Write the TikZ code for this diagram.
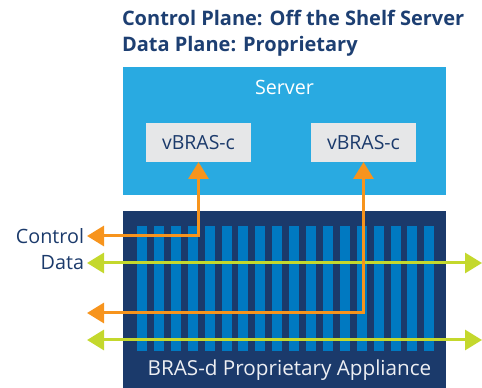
\documentclass[tikz,border=0pt]{standalone}
\usepackage{fontspec}
\setmainfont{Open Sans}
\usepackage{tikz}
\usetikzlibrary{arrows.meta}
\usetikzlibrary{positioning}

\definecolor{navy}{HTML}{1B3A6B}
\definecolor{titleblue}{HTML}{1D3F72}
\definecolor{srvblue}{HTML}{29AAE1}
\definecolor{stripeblue}{HTML}{0079C1}
\definecolor{boxgray}{HTML}{E6E7E8}
\definecolor{ctrlorange}{HTML}{F7941D}
\definecolor{datagreen}{HTML}{C4D82D}

\begin{document}
\begin{tikzpicture}
      [x=0.75pt, y=-0.75pt,
       every node/.style={inner sep=0pt, outer sep=0pt},
       vbox/.style={fill=boxgray, minimum width=78.75pt, minimum height=29.25pt,
         text=navy, font=\fontsize{14.6}{17}\selectfont},
       ctrl/.style={draw=ctrlorange, line width=2.25pt,
         {Triangle[length=12.75pt, width=15pt]}-{Triangle[length=12.75pt, width=15pt]}},
       data/.style={draw=datagreen, line width=2.25pt,
         {Triangle[length=12.75pt, width=15pt]}-{Triangle[length=12.75pt, width=15pt]}},
       side/.style={anchor=east, text=navy, font=\fontsize{14.8}{17}\selectfont}]
      \useasboundingbox (0,0) rectangle (482,388);

      % title
      \node (title) [anchor=north west, align=left, text=titleblue,
        font=\fontsize{15}{19.5}\selectfont\bfseries] at (122,10)
        {Control Plane: Off the Shelf Server\\Data Plane: Proprietary};

      % server
      \fill [srvblue] (123,67) rectangle (446,195);
      \node (srv) [text=white, font=\fontsize{14.8}{17}\selectfont] at (284.5,87) {Server};
      \node (vc1) [vbox] at (198.5,142.5) {vBRAS-c};
      \node (vc2) [vbox] at (363.5,142.5) {vBRAS-c};

      % appliance
      \fill [navy] (123,211) rectangle (446,388);
      \foreach \i in {0,...,17}
        \fill [stripeblue] ({137+16.9*\i},226) rectangle +(10,125);
      \node (bras) [text=white!92!navy, font=\fontsize{15.5}{17}\selectfont]
        at (289.5,370) {BRAS-d Proprietary Appliance};

      % labels
      \node (ctl) [side] at (84,236) {Control};
      \node (dat) [side] at (84,263) {Data};

      \coordinate (c1) at (87,236);
      \coordinate (c2) at (87,313);
      \coordinate (d1l) at (87,263);
      \coordinate (d1r) at (482,263);
      \coordinate (d2l) at (87,340);
      \coordinate (d2r) at (482,340);

      \draw [data] (d1l) -- (d1r);
      \draw [data] (d2l) -- (d2r);
      \draw [ctrl] (c1) -| (vc1.south);
      \draw [ctrl] (c2) -| (vc2.south);

    \end{tikzpicture}
\end{document}
